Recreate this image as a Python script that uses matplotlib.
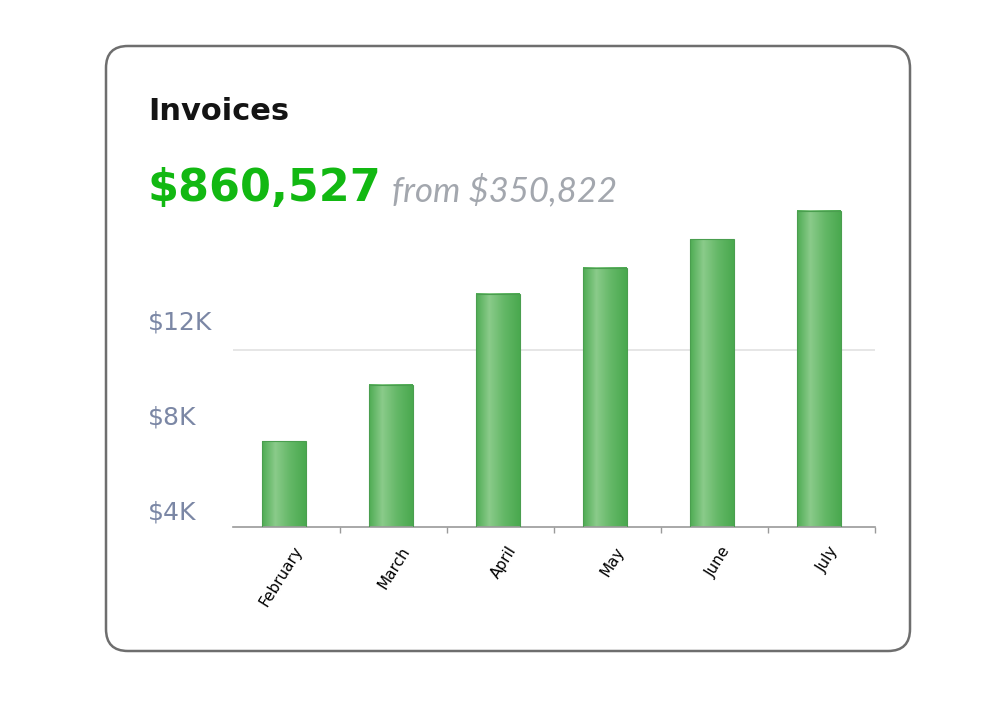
import numpy as np
import matplotlib
matplotlib.use("Agg")
import matplotlib.pyplot as plt
from matplotlib.colors import LinearSegmentedColormap
from matplotlib.patches import FancyBboxPatch
from matplotlib.transforms import ScaledTranslation

# data (values in $K)
months = ["February", "March", "April", "May", "June", "July"]
invoices = [6.9, 9.26, 13.1, 14.2, 15.4, 16.6]
ytick_vals = [4, 8, 12]
ytick_labels = ["$4K", "$8K", "$12K"]
grid_val = 10.74
y_bottom, y_top = 3.28, 17.05

W, H = 997, 705
fig = plt.figure(figsize=(W / 100, H / 100), dpi=100)

# card outline
card = FancyBboxPatch((106 / W, 1 - 651 / H), 804 / W, 605 / H,
                      boxstyle="round,pad=0,rounding_size=0.022",
                      transform=fig.transFigure, facecolor="none",
                      edgecolor="#6e6e6e", linewidth=1.8, mutation_aspect=W / H)
fig.patches.append(card)

fig.text(148 / W, 1 - 120 / H, "Invoices", fontsize=22, fontweight="bold",
         color="#141414", va="baseline")
fig.text(147 / W, 1 - 201 / H, "$860,527", fontsize=32, fontweight="bold",
         color="#12b812", va="baseline")
fig.text(392 / W, 1 - 201 / H, "from $350,822", fontsize=25, style="italic",
         family="Lato", color="#a3a7ae", va="baseline")

ax = fig.add_axes([233 / W, (H - 527) / H, 642 / W, 327 / H])
ax.set_facecolor("none")

x = np.arange(len(months))
bars = ax.bar(x - 0.02, invoices, width=0.41, facecolor="none",
              edgecolor="#4a9e4f", linewidth=0.8, zorder=3)

# cylinder-like shading on each bar
cmap = LinearSegmentedColormap.from_list(
    "bar", [(0, "#4fac54"), (0.3, "#8acb8a"), (0.65, "#63b766"), (1, "#4aa94f")])
grad = np.linspace(0, 1, 64).reshape(1, -1)
for b in bars:
    ax.imshow(grad, cmap=cmap, aspect="auto", zorder=2,
              extent=(b.get_x(), b.get_x() + b.get_width(), 0, b.get_height()))

ax.axhline(grid_val, color="#e2e2e2", linewidth=1.2, zorder=1)

ax.set_xlim(-0.5, len(months) - 0.5)
ax.set_ylim(y_bottom, y_top)

for s in ["left", "right", "top"]:
    ax.spines[s].set_visible(False)
ax.spines["bottom"].set_color("#9a9a9a")
ax.spines["bottom"].set_linewidth(1.2)

ax.set_xticks(x, months, rotation=58, ha="right", va="center",
              rotation_mode="anchor", fontsize=11, color="black")
ax.tick_params(axis="x", which="major", length=0, pad=15)
ax.set_xticks(np.arange(len(months)) + 0.5, minor=True)
ax.tick_params(axis="x", which="minor", length=4, color="#9a9a9a", width=1)
shift = ScaledTranslation(13 / 100, 0, fig.dpi_scale_trans)
for lab in ax.get_xticklabels():
    lab.set_transform(lab.get_transform() + shift)

ax.set_yticks(ytick_vals, ytick_labels, fontsize=18, color="#7b87a5")
ax.tick_params(axis="y", length=0, pad=61)
for lab in ax.get_yticklabels():
    lab.set_horizontalalignment("left")

fig.savefig("out.png", dpi=100)
